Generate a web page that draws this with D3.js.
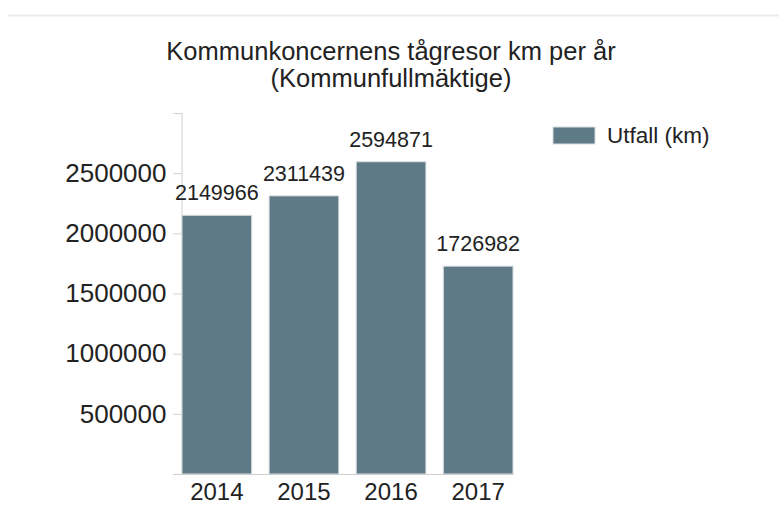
<!DOCTYPE html>
<html>
<head>
<meta charset="utf-8">
<script src="https://cdn.jsdelivr.net/npm/d3@7"></script>
<style>
  body { margin: 0; background: #fff; }
  svg { display: block; font-family: "Liberation Sans", Arial, sans-serif; }
</style>
</head>
<body>
<svg id="chart" width="779" height="516"></svg>
<script>
const years = ["2014", "2015", "2016", "2017"];
const utfall = [2149966, 2311439, 2594871, 1726982];
const yTicks = [500000, 1000000, 1500000, 2000000, 2500000];
const titleLines = ["Kommunkoncernens tågresor km per år", "(Kommunfullmäktige)"];
const seriesName = "Utfall (km)";

const svg = d3.select("#chart");
const barColor = "#5f7a87";
const axisColor = "#cfcfcf";
const textColor = "#222";

// top divider
svg.append("line")
  .attr("x1", 8).attr("x2", 779)
  .attr("y1", 15.5).attr("y2", 15.5)
  .attr("stroke", "#ececec")
  .attr("stroke-width", 2);

// title
svg.append("text")
  .attr("text-anchor", "middle")
  .attr("fill", textColor)
  .style("font-size", "25.5px")
  .selectAll("tspan")
  .data(titleLines)
  .enter()
  .append("tspan")
  .attr("x", 391)
  .attr("y", (d, i) => 60 + i * 27)
  .text((d) => d);

const x = d3.scaleBand().domain(years).range([182, 513]).paddingInner(0.2).paddingOuter(0);
const y = d3.scaleLinear().domain([0, 3000000]).range([474, 113]);

// y axis
const yAxis = svg.append("g")
  .attr("transform", "translate(181.5,0)")
  .call(d3.axisLeft(y).tickValues(yTicks).tickSize(8).tickSizeOuter(8).tickPadding(7).tickFormat(d3.format("d")));
yAxis.select(".domain").attr("stroke", axisColor);
yAxis.selectAll(".tick line").attr("stroke", axisColor);
yAxis.selectAll(".tick text")
  .attr("fill", textColor)
  .style("font-size", "26px")
  .style("font-family", "Liberation Sans, Arial, sans-serif");

// bars
svg.selectAll(".bar")
  .data(utfall)
  .enter()
  .append("rect")
  .attr("class", "bar")
  .attr("x", (d, i) => x(years[i]))
  .attr("y", (d) => y(d))
  .attr("width", x.bandwidth())
  .attr("height", (d) => y(0) - y(d))
  .attr("fill", barColor)
  .attr("stroke", "#d8dde0")
  .attr("stroke-width", 1);

// x axis
const xAxis = svg.append("g")
  .attr("transform", "translate(0,474.5)")
  .call(d3.axisBottom(x).tickSize(0).tickPadding(8));
xAxis.select(".domain").attr("stroke", axisColor).attr("d", "M173,0H514");
xAxis.selectAll(".tick text")
  .attr("fill", textColor)
  .style("font-size", "24px")
  .style("font-family", "Liberation Sans, Arial, sans-serif");

// value labels
svg.selectAll(".val")
  .data(utfall)
  .enter()
  .append("text")
  .attr("class", "val")
  .attr("x", (d, i) => x(years[i]) + x.bandwidth() / 2)
  .attr("y", (d) => y(d) - 15)
  .attr("text-anchor", "middle")
  .attr("fill", textColor)
  .style("font-size", "21.5px")
  .text((d) => d);

// legend
const legend = svg.append("g").attr("transform", "translate(553,127)");
legend.append("rect")
  .attr("width", 42).attr("height", 17)
  .attr("fill", barColor)
  .attr("stroke", "#d8dde0");
legend.append("text")
  .attr("x", 54).attr("y", 16)
  .attr("fill", textColor)
  .style("font-size", "22.5px")
  .text(seriesName);
</script>
</body>
</html>
